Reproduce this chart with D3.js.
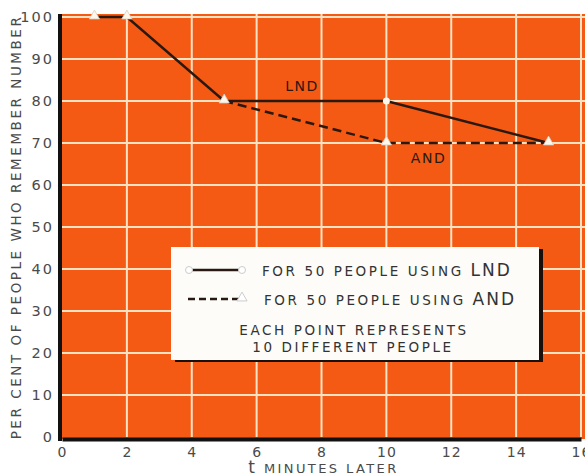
<!DOCTYPE html>
<html><head><meta charset="utf-8">
<script src="https://cdn.jsdelivr.net/npm/d3@7"></script>
<style>body{margin:0;background:#fff}svg{display:block}text{font-family:"DejaVu Sans",sans-serif}</style>
</head><body>
<svg id="c" width="585" height="476"></svg>
<script>
const xTicks = [0,2,4,6,8,10,12,14,16];
const yTicks = [0,10,20,30,40,50,60,70,80,90,100];
const lndX = [1,2,5,10,15];
const lndY = [100,100,80,80,70];
const andX = [1,2,5,10,15];
const andY = [100,100,80,70,70];

const svg = d3.select("#c");
const x = d3.scaleLinear().domain([0,16]).range([62,581]);
const y = d3.scaleLinear().domain([0,100]).range([437,17]);
const orange = "#f55a15", grid = "#f7e3c4", ink = "#2a1812", lbl = "#4a4a4a";

svg.append("rect").attr("x",x(0)).attr("y",y(100)-3).attr("width",585-x(0)).attr("height",y(0)-y(100)+5).attr("fill",orange);
// grid
svg.append("g").selectAll("line").data(xTicks.slice(1)).join("line")
  .attr("x1",d=>x(d)).attr("x2",d=>x(d)).attr("y1",y(100)-3).attr("y2",y(0))
  .attr("stroke",grid).attr("stroke-width",2);
svg.append("g").selectAll("line").data(yTicks.slice(1)).join("line")
  .attr("x1",x(0)).attr("x2",585).attr("y1",d=>y(d)).attr("y2",d=>y(d))
  .attr("stroke",grid).attr("stroke-width",2);
// axes
const xa = svg.append("g").attr("transform",`translate(0,${y(0)+2})`)
  .call(d3.axisBottom(x).tickValues(xTicks).tickSize(0).tickPadding(8));
xa.select(".domain").attr("stroke","#111").attr("stroke-width",4);
xa.selectAll("text").attr("fill",lbl).attr("font-size",14).attr("letter-spacing",1);
const ya = svg.append("g").attr("transform",`translate(${x(0)-2},0)`)
  .call(d3.axisLeft(y).tickValues(yTicks).tickSize(0).tickPadding(6));
ya.select(".domain").attr("stroke","#111").attr("stroke-width",4).attr("d",`M0,${y(100)-3}V${y(0)+4}`);
ya.selectAll("text").attr("fill",lbl).attr("font-size",14.5).attr("letter-spacing",2);

// lines
const line = d3.line();
const lnd = lndX.map((v,i)=>[x(v),y(lndY[i])]);
const and = andX.map((v,i)=>[x(v),y(andY[i])]);
svg.append("path").attr("d",line(and.slice(2))).attr("fill","none").attr("stroke",ink).attr("stroke-width",2.5).attr("stroke-dasharray","9,5");
svg.append("path").attr("d",line(lnd)).attr("fill","none").attr("stroke",ink).attr("stroke-width",2.5);
const tri = d3.symbol().type(d3.symbolTriangle).size(45);
svg.append("g").selectAll("path").data(and).join("path").attr("d",tri)
  .attr("transform",d=>`translate(${d[0]},${d[1]-1})`).attr("fill","#fff7ea").attr("stroke","#d8cfc0").attr("stroke-width",0.8);
svg.append("g").selectAll("circle").data(lnd.filter((d,i)=>lndY[i]!==andY[i])).join("circle")
  .attr("cx",d=>d[0]).attr("cy",d=>d[1]).attr("r",3.5).attr("fill","#fff7ea");

svg.append("text").attr("x",x(7.4)).attr("y",y(82.5)).attr("fill",ink).attr("font-size",14).attr("text-anchor","middle").attr("letter-spacing",1.5).text("LND");
svg.append("text").attr("x",x(11.3)).attr("y",y(65.2)).attr("fill",ink).attr("font-size",14).attr("text-anchor","middle").attr("letter-spacing",1.5).text("AND");

// legend
svg.append("rect").attr("x",175).attr("y",249).attr("width",368).attr("height",113).attr("fill","#1a0f0a");
svg.append("rect").attr("x",171).attr("y",247).attr("width",368).attr("height",113).attr("fill","#fdfcf8");
const lg = svg.append("g");
lg.append("line").attr("x1",190).attr("x2",240).attr("y1",270).attr("y2",270).attr("stroke",ink).attr("stroke-width",2.5);
lg.append("circle").attr("cx",189).attr("cy",270).attr("r",3.5).attr("fill","#fff").attr("stroke","#ccc");
lg.append("circle").attr("cx",242).attr("cy",270).attr("r",3.5).attr("fill","#fff").attr("stroke","#ccc");
lg.append("line").attr("x1",188).attr("x2",240).attr("y1",299).attr("y2",299).attr("stroke",ink).attr("stroke-width",2.5).attr("stroke-dasharray","7,4");
lg.append("path").attr("d",tri).attr("transform","translate(242,298)").attr("fill","#fff").attr("stroke","#ccc");
const tf = {fill:"#333","font-size":13.5,"letter-spacing":2.6};
function t(xp,yp,str,anchor,size){const e=lg.append("text").attr("x",xp).attr("y",yp).attr("text-anchor",anchor||"start");for(const k in tf)e.attr(k,tf[k]);if(size)e.attr("font-size",size);e.text(str);return e;}
const l1 = t(262,276,"FOR 50 PEOPLE USING ");
l1.append("tspan").attr("font-size",17).attr("letter-spacing",2).text("LND");
const l2 = t(264,305,"FOR 50 PEOPLE USING ");
l2.append("tspan").attr("font-size",17).attr("letter-spacing",2).text("AND");
t(354,335,"EACH POINT REPRESENTS","middle");
t(353,352,"10 DIFFERENT PEOPLE","middle");

// axis titles
svg.append("text").attr("transform",`translate(21,227) rotate(-90)`).attr("text-anchor","middle")
  .attr("fill",lbl).attr("font-size",13.5).attr("letter-spacing",2.55).text("PER CENT OF PEOPLE WHO REMEMBER NUMBER");
const xt = svg.append("text").attr("x",x(8)+2).attr("y",473).attr("text-anchor","middle").attr("fill",lbl).attr("font-size",13).attr("letter-spacing",2.4);
xt.append("tspan").attr("font-size",17).text("t");
xt.append("tspan").text(" MINUTES LATER");
</script>
</body></html>
